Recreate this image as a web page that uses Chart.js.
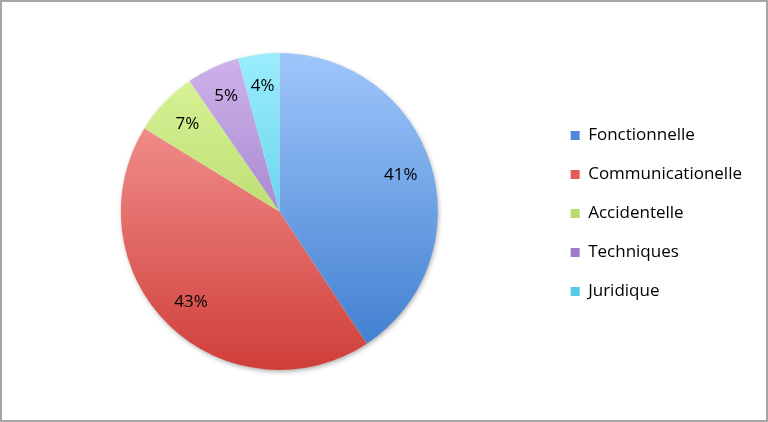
<!DOCTYPE html>
<html>
<head>
<meta charset="utf-8">
<script src="https://cdn.jsdelivr.net/npm/chart.js@4.4.1/dist/chart.umd.min.js"></script>
<style>
  html, body { margin: 0; padding: 0; background: #fff; }
  #frame { width: 768px; height: 422px; box-sizing: border-box; border: 2px solid #a6a6a6; position: relative; }
  #wrap { width: 764px; height: 418px; }
</style>
</head>
<body>
<div id="frame"><div id="wrap"><canvas id="pieChart"></canvas></div></div>
<script>
const categories = ['Fonctionnelle', 'Communicationelle', 'Accidentelle', 'Techniques', 'Juridique'];
const shares = [40.7, 43.1, 6.6, 5.4, 4.2];
const topColors = ['#9fc6fb', '#f9a4a2', '#dbf69c', '#cfb3ec', '#9aedfd'];
const bottomColors = ['#3a7acd', '#d03e39', '#a0c84c', '#8462b4', '#3dbedb'];
const legendColors = ['#5089db', '#e15c57', '#b6db6e', '#9d7bc8', '#57cae6'];

const FONT = '"Open Sans", "Noto Sans", sans-serif';

// vertical gradient over the whole pie, light on top, darker at the bottom
function sliceFill(ctx) {
    const chart = ctx.chart;
    const area = chart.chartArea;
    if (!area) return legendColors[ctx.dataIndex];
    const cy = (area.top + area.bottom) / 2;
    const r = Math.min(area.right - area.left, area.bottom - area.top) / 2;
    const g = chart.ctx.createLinearGradient(0, cy - r, 0, cy + r);
    g.addColorStop(0, topColors[ctx.dataIndex]);
    g.addColorStop(1, bottomColors[ctx.dataIndex]);
    return g;
}

const pieShadow = {
    id: 'pieShadow',
    beforeDatasetsDraw(chart) {
        const arc = chart.getDatasetMeta(0).data[0];
        if (!arc) return;
        const c = chart.ctx;
        c.save();
        c.shadowColor = 'rgba(0,0,0,0.35)';
        c.shadowBlur = 5;
        c.shadowOffsetX = 1;
        c.shadowOffsetY = 2;
        c.fillStyle = '#fff';
        c.beginPath();
        c.arc(arc.x, arc.y, arc.outerRadius - 0.5, 0, Math.PI * 2);
        c.fill();
        c.restore();
    }
};

const sliceLabels = {
    id: 'sliceLabels',
    afterDatasetsDraw(chart) {
        const c = chart.ctx;
        const meta = chart.getDatasetMeta(0);
        c.save();
        c.font = '17px ' + FONT;
        c.fillStyle = '#000';
        c.textAlign = 'center';
        c.textBaseline = 'middle';
        meta.data.forEach((arc, i) => {
            const mid = (arc.startAngle + arc.endAngle) / 2;
            const r = arc.outerRadius * 0.8;
            c.fillText(Math.round(shares[i]) + '%', arc.x + Math.cos(mid) * r, arc.y + Math.sin(mid) * r);
        });
        c.restore();
    }
};

new Chart(document.getElementById('pieChart'), {
    type: 'pie',
    data: {
        labels: categories,
        datasets: [{
            data: shares,
            backgroundColor: sliceFill,
            borderWidth: 0
        }]
    },
    options: {
        responsive: true,
        maintainAspectRatio: false,
        animation: false,
        events: [],
        layout: { padding: { top: 51, bottom: 50, left: 8, right: 14 } },
        plugins: {
            tooltip: { enabled: false },
            legend: {
                position: 'right',
                // empty title only nudges the column down a little
                title: { display: true, text: '', color: '#000', font: { size: 1 }, padding: 1.5 },
                labels: {
                    font: { family: FONT, size: 17 },
                    color: '#000',
                    boxWidth: 9,
                    boxHeight: 9,
                    padding: 22,
                    generateLabels: () => categories.map((name, i) => ({
                        text: name,
                        fillStyle: legendColors[i],
                        strokeStyle: legendColors[i],
                        fontColor: '#000',
                        lineWidth: 0,
                        index: i
                    }))
                }
            }
        }
    },
    plugins: [pieShadow, sliceLabels]
});
</script>
</body>
</html>
